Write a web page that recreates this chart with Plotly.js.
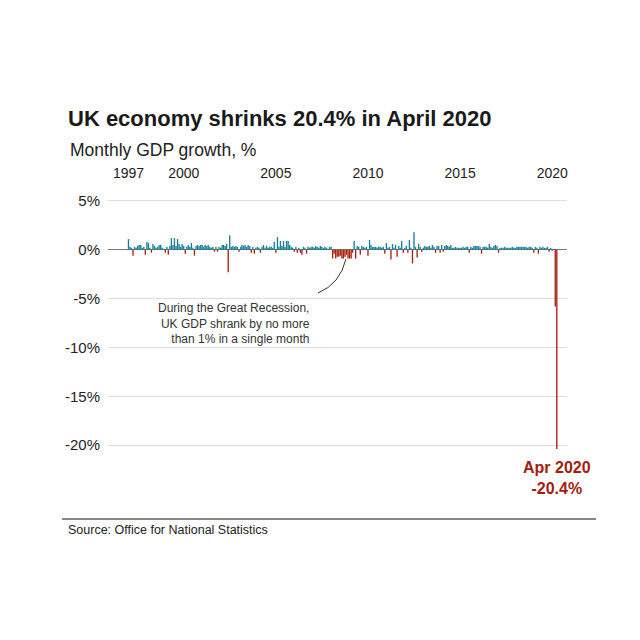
<!DOCTYPE html>
<html>
<head>
<meta charset="utf-8">
<script src="https://cdn.plot.ly/plotly-3.0.1.min.js"></script>
<style>
  html, body { margin: 0; padding: 0; background: #ffffff; }
  #chart { width: 640px; height: 640px; }
</style>
</head>
<body>
<div id="chart"></div>
<script>
// Monthly GDP growth (%), month-on-month
const g1997 = [1.1, 0.3, 0.2, -0.6, 0.3, 0.2, 0.4, 0.5, 0.5, 0.2, 0.3, -0.5];
const g1998 = [0.8, 0.7, 0.2, -0.3, 0.6, 0.4, 0.2, 0.3, 0.5, 0.5, 0.2, 0.1];
const g1999 = [-0.3, 0.3, -0.5, 0.4, 1.2, 0.5, 1.2, 0.4, 1.1, 0.6, 0.3, 0.6];
const g2000 = [0.4, -0.4, 0.3, 0.5, 0.3, 0.7, 0.2, -0.6, 0.4, 0.5, 0.4, 0.5];
const g2001 = [0.5, 0.3, 0.5, 0.4, 0.5, 0.3, 0.2, 0.3, -0.2, 0.3, -0.2, 0.3];
const g2002 = [0.2, 0.5, 0.5, 0.4, 0.6, -2.3, 1.5, 0.3, 0.4, 0.3, 0.4, 0.3];
const g2003 = [-0.2, 0.3, 0.5, 0.4, 0.5, 0.3, 0.5, 0.4, -0.3, 0.3, -0.4, 0.2];
const g2004 = [0.3, 0.2, -0.3, 0.3, 0.5, 0.2, 0.4, 0.2, 0.3, 0.3, 0.2, 0.8];
const g2005 = [-0.3, 1.3, 0.3, 0.9, 0.4, 0.9, 0.3, 0.9, 0.9, 0.5, 0.3, 0.2];
const g2006 = [-0.2, 0.3, -0.3, 0.2, -0.3, -0.5, 0.3, 0.2, -0.4, 0.3, 0.2, 0.3];
const g2007 = [0.3, 0.2, 0.4, 0.3, 0.2, 0.4, 0.3, 0.2, 0.3, 0.2, 0.1, 0.3];
const g2008 = [0.3, -0.9, -0.4, -0.9, -0.7, -0.7, -0.6, -0.9, -0.9, -0.7, -0.5, -0.9];
const g2009 = [-0.9, -0.9, -0.3, 0.9, -0.9, 0.4, 0.3, -0.5, 0.4, 0.3, 0.2, 0.3];
const g2010 = [-0.6, 1.0, 0.5, 0.3, 0.3, 0.3, 0.2, 0.3, 0.3, 0.2, 0.3, -0.4];
const g2011 = [0.7, 0.2, 0.3, -1.0, 0.6, 0.2, 0.5, -0.7, 0.4, 0.2, 0.9, -0.3];
const g2012 = [0.2, 0.4, -0.3, 1.0, 0.2, -1.4, 1.8, 0.3, -0.8, 0.6, 0.3, -0.2];
const g2013 = [0.2, 0.4, 0.3, 0.3, 0.4, 0.2, 0.5, 0.3, -0.3, 0.4, 0.4, -0.3];
const g2014 = [0.5, -0.2, 0.4, 0.5, 0.4, 0.3, 0.5, 0.2, 0.2, 0.3, 0.2, 0.2];
const g2015 = [0.2, 0.2, 0.3, 0.2, 0.3, 0.3, -0.3, 0.3, 0.2, 0.4, 0.4, 0.4];
const g2016 = [0.4, 0.3, -0.4, 0.3, 0.3, 0.3, 0.2, 0.6, 0.3, 0.2, 0.4, 0.5];
const g2017 = [0.4, -0.3, 0.2, 0.2, 0.2, 0.3, 0.2, 0.2, 0.2, 0.2, 0.3, 0.2];
const g2018 = [0.2, 0.3, 0.3, 0.3, 0.3, 0.3, 0.3, 0.3, 0.2, 0.3, 0.3, 0.2];
const g2019 = [-0.3, 0.3, 0.2, -0.4, 0.3, 0.2, 0.3, 0.2, 0.2, 0.3, -0.2, 0.2];
const g2020 = [-0.1, 0.1, -5.8, -20.4];

const years = [1997, 1998, 1999, 2000, 2001, 2002, 2003, 2004, 2005, 2006, 2007, 2008,
               2009, 2010, 2011, 2012, 2013, 2014, 2015, 2016, 2017, 2018, 2019, 2020];
const yearly = [g1997, g1998, g1999, g2000, g2001, g2002, g2003, g2004, g2005, g2006, g2007, g2008,
                g2009, g2010, g2011, g2012, g2013, g2014, g2015, g2016, g2017, g2018, g2019, g2020];

const xTickYears = [1997, 2000, 2005, 2010, 2015, 2020];
const yTicks = [5, 0, -5, -10, -15, -20];

const dates = [];
const values = [];
years.forEach((yr, i) => {
  yearly[i].forEach((v, m) => {
    dates.push(yr + '-' + String(m + 1).padStart(2, '0') + '-01');
    values.push(v);
  });
});

const TEAL = '#167f99';
const RED = '#a8200c';
const colors = values.map(v => v < 0 ? RED : TEAL);

const lastDate = dates[dates.length - 1];
const lastValue = values[values.length - 1];

const FONT = 'Liberation Sans, Arial, Helvetica, sans-serif';

// plot area in pixels (for paper-referenced decorations)
const L = 108, R = 567, T = 199, B = 451;
const px = x => (x - L) / (R - L);
const py = y => (B - y) / (B - T);

const trace = {
  type: 'bar',
  x: dates,
  y: values,
  marker: { color: colors, line: { width: 0 } },
  hoverinfo: 'x+y'
};

const layout = {
  width: 640,
  height: 640,
  paper_bgcolor: '#ffffff',
  plot_bgcolor: '#ffffff',
  margin: { l: L, r: 640 - R, t: T, b: 640 - B, pad: 0 },
  showlegend: false,
  bargap: 0.05,
  font: { family: FONT, color: '#222222' },
  title: {
    text: '<b>UK economy shrinks 20.4% in April 2020</b>',
    font: { family: FONT, size: 22, color: '#1a1a1a' },
    xref: 'container', yref: 'container',
    x: 68 / 640, xanchor: 'left',
    y: 1 - 118 / 640, yanchor: 'middle'
  },
  xaxis: {
    type: 'date',
    side: 'top',
    range: ['1995-11-22', '2020-10-20'],
    tickvals: xTickYears.map(y => y + '-01-01'),
    ticktext: xTickYears.map(String),
    ticks: 'outside',
    ticklen: 14,
    tickcolor: 'rgba(0,0,0,0)',
    tickfont: { family: FONT, size: 14, color: '#222222' },
    showgrid: false,
    showline: false,
    zeroline: false,
    fixedrange: true
  },
  yaxis: {
    range: [-20.6, 5.2],
    tickvals: yTicks,
    ticktext: yTicks.map(v => v + '%'),
    tickfont: { family: FONT, size: 15, color: '#222222' },
    ticks: 'outside',
    ticklen: 4,
    tickcolor: 'rgba(0,0,0,0)',
    showgrid: true,
    gridcolor: '#dddddd',
    gridwidth: 1,
    zeroline: true,
    zerolinecolor: '#777777',
    zerolinewidth: 1,
    showline: false,
    fixedrange: true
  },
  shapes: [
    {
      type: 'path', xref: 'paper', yref: 'paper',
      path: 'M ' + px(318) + ' ' + py(293) + ' Q ' + px(340) + ' ' + py(284) + ' ' + px(346) + ' ' + py(259),
      line: { color: '#333333', width: 1 }
    },
    {
      type: 'line', xref: 'paper', yref: 'paper',
      x0: px(62), x1: px(596), y0: py(519), y1: py(519),
      line: { color: '#888888', width: 2 }
    }
  ],
  annotations: [
    {
      xref: 'paper', yref: 'paper',
      x: px(68), y: py(150), xanchor: 'left', yanchor: 'middle',
      text: 'Monthly GDP growth, %', showarrow: false,
      font: { family: FONT, size: 17.5, color: '#222222' }
    },
    {
      xref: 'paper', yref: 'paper',
      x: px(312), y: py(323), xanchor: 'right', yanchor: 'middle', align: 'right',
      text: 'During the Great Recession,<br>UK GDP shrank by no more<br>than 1% in a single month',
      showarrow: false,
      font: { family: FONT, size: 12, color: '#333333' }
    },
    {
      xref: 'x', yref: 'y',
      x: lastDate, y: lastValue, xanchor: 'center', yanchor: 'top', yshift: -8,
      text: '<b>Apr 2020<br>' + lastValue.toFixed(1) + '%</b>',
      showarrow: false,
      font: { family: FONT, size: 16, color: '#a3200c' }
    },
    {
      xref: 'paper', yref: 'paper',
      x: px(66), y: py(530), xanchor: 'left', yanchor: 'middle',
      text: 'Source: Office for National Statistics', showarrow: false,
      font: { family: FONT, size: 12.5, color: '#222222' }
    }
  ]
};

Plotly.newPlot('chart', [trace], layout, { staticPlot: true, displayModeBar: false });
</script>
</body>
</html>
